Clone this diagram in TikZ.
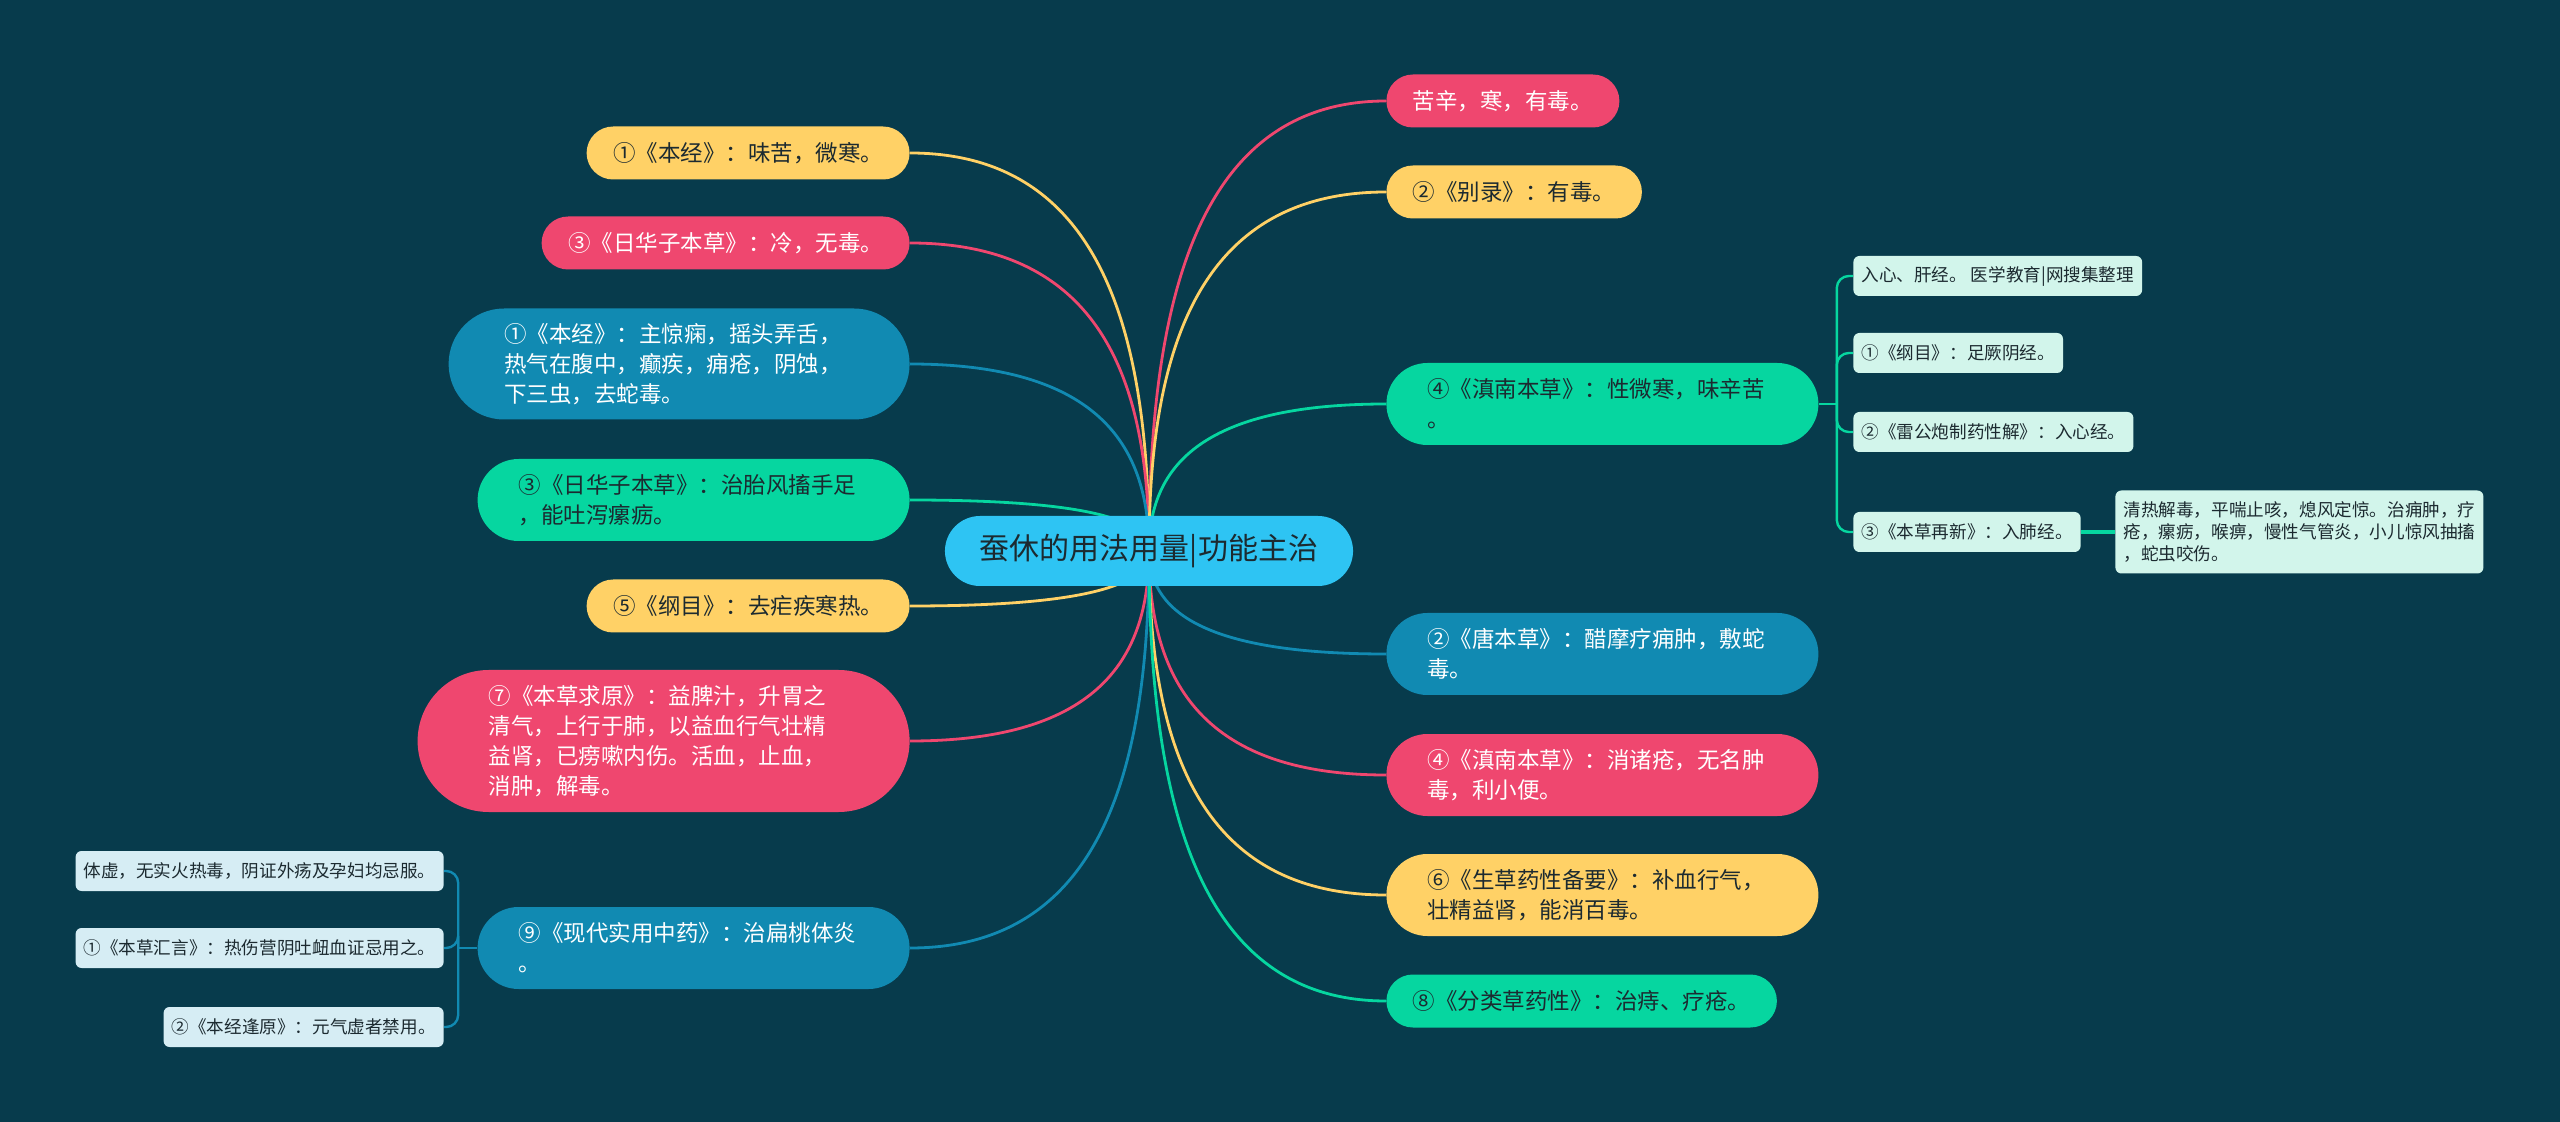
\documentclass[tikz,border=0pt]{standalone}
\usepackage{fontspec}
\setmainfont{Noto Sans CJK SC}
\usepackage{tikz}
\usetikzlibrary{positioning, backgrounds, calc}

\definecolor{bgcol}{HTML}{073B4C}
\definecolor{cYellow}{HTML}{FFD166}
\definecolor{cPink}{HTML}{EF476F}
\definecolor{cGreen}{HTML}{06D6A0}
\definecolor{cBlue}{HTML}{118AB2}
\definecolor{cRoot}{HTML}{2EC4F3}
\definecolor{ink}{HTML}{1C2A30}
\definecolor{leafBlue}{HTML}{D6EDF4}
\definecolor{leafMint}{HTML}{D2F5EB}

\newcommand\rootfont{\fontsize{15pt}{18pt}\selectfont}
\newcommand\topicfont{\fontsize{11.25pt}{15pt}\selectfont}
\newcommand\leaffont{\fontsize{8.8pt}{11pt}\selectfont}

\pgfdeclarelayer{backdrop}
\pgfsetlayers{backdrop,background,main}

\begin{document}
\begin{tikzpicture}[
  x=0.5pt, y=-0.5pt,
  font=\topicfont,
  rootnode/.style={fill=cRoot, text=ink, font=\rootfont, minimum height=35pt, rounded corners=17.5pt, inner xsep=17.5pt, inner ysep=0pt},
  pill1/.style={minimum height=26.5pt, rounded corners=13.25pt, inner xsep=13.25pt, inner ysep=0pt},
  pill2/.style={minimum height=41pt, rounded corners=20.5pt, inner xsep=20.5pt, inner ysep=0pt, text width=175pt, align=left},
  pill3/.style={minimum height=55.5pt, rounded corners=27.75pt, inner xsep=27.75pt, inner ysep=0pt, text width=175pt, align=left},
  pill4/.style={minimum height=71pt, rounded corners=35.5pt, inner xsep=35.5pt, inner ysep=0pt, text width=175pt, align=left},
  ylw/.style={fill=cYellow, text=ink},
  pnk/.style={fill=cPink, text=white},
  grn/.style={fill=cGreen, text=ink},
  blu/.style={fill=cBlue, text=white},
  leaf/.style={font=\leaffont, text=ink, minimum height=20pt, rounded corners=3pt, inner xsep=4pt, inner ysep=0pt},
  link/.style={line width=1.4pt},
  twig/.style={line width=1.2pt, rounded corners=6pt},
  branch/.style={to path={let \p1=(\tikztostart), \p2=(\tikztotarget) in
    .. controls (\x1,{\y1+0.55*(\y2-\y1)}) and ({\x2+0.8*(\x1-\x2)},\y2) .. (\tikztotarget)}}
]
  \useasboundingbox (0,0) rectangle (2560,1122);
  \begin{pgfonlayer}{backdrop}
    \fill[bgcol] (0,0) rectangle (2560,1122);
  \end{pgfonlayer}

  \node[rootnode] (root) at (1149,551) {蚕休的用法用量|功能主治};

  % left side
  \node[pill1, ylw, anchor=east] (l1) at (910,153) {①《本经》：味苦，微寒。};
  \node[pill1, pnk, anchor=east] (l2) at (910,243) {③《日华子本草》：冷，无毒。};
  \node[pill3, blu, anchor=east] (l3) at (910,364)
    {①《本经》：主惊痫，摇头弄舌，\\热气在腹中，癫疾，痈疮，阴蚀，\\下三虫，去蛇毒。};
  \node[pill2, grn, anchor=east] (l4) at (910,500) {③《日华子本草》：治胎风搐手足\\，能吐泻瘰疬。};
  \node[pill1, ylw, anchor=east] (l5) at (910,606) {⑤《纲目》：去疟疾寒热。};
  \node[pill4, pnk, anchor=east] (l6) at (910,741)
    {⑦《本草求原》：益脾汁，升胃之\\清气，上行于肺，以益血行气壮精\\益肾，已痨嗽内伤。活血，止血，\\消肿，解毒。};
  \node[pill2, blu, anchor=east] (l7) at (910,948) {⑨《现代实用中药》：治扁桃体炎\\。};

  \node[leaf, fill=leafBlue, anchor=east] (m1) at (444,871) {体虚，无实火热毒，阴证外疡及孕妇均忌服。};
  \node[leaf, fill=leafBlue, anchor=east] (m2) at (444,948) {①《本草汇言》：热伤营阴吐衄血证忌用之。};
  \node[leaf, fill=leafBlue, anchor=east] (m3) at (444,1027) {②《本经逢原》：元气虚者禁用。};
  \coordinate[left=9.5pt of l7.west] (lfork);

  % right side
  \node[pill1, pnk, anchor=west] (r1) at (1386,101) {苦辛，寒，有毒。};
  \node[pill1, ylw, anchor=west] (r2) at (1386,192) {②《别录》：有毒。};
  \node[pill2, grn, anchor=west] (r3) at (1386,404) {④《滇南本草》：性微寒，味辛苦\\。};
  \node[pill2, blu, anchor=west] (r4) at (1386,654) {②《唐本草》：醋摩疗痈肿，敷蛇\\毒。};
  \node[pill2, pnk, anchor=west] (r5) at (1386,775) {④《滇南本草》：消诸疮，无名肿\\毒，利小便。};
  \node[pill2, ylw, anchor=west] (r6) at (1386,895) {⑥《生草药性备要》：补血行气，\\壮精益肾，能消百毒。};
  \node[pill1, grn, anchor=west] (r7) at (1386,1001) {⑧《分类草药性》：治痔、疗疮。};

  \node[leaf, fill=leafMint, anchor=west] (k1) at (1853,276) {入心、肝经。 医学教育|网搜集整理};
  \node[leaf, fill=leafMint, anchor=west] (k2) at (1853,353) {①《纲目》：足厥阴经。};
  \node[leaf, fill=leafMint, anchor=west] (k3) at (1853,432) {②《雷公炮制药性解》：入心经。};
  \node[leaf, fill=leafMint, anchor=west] (k4) at (1853,532) {③《本草再新》：入肺经。};
  \node[leaf, fill=leafMint, right=17pt of k4, minimum height=41.5pt, text width=176pt, align=left] (k4a)
    {清热解毒，平喘止咳，熄风定惊。治痈肿，疗\\疮，瘰疬，喉痹，慢性气管炎，小儿惊风抽搐\\，蛇虫咬伤。};
  \coordinate[right=9pt of r3.east] (rfork);

  \begin{scope}[on background layer]
    \draw[link, cYellow] (root.center) to[branch] (l1.east);
    \draw[link, cPink] (root.center) to[branch] (l2.east);
    \draw[link, cBlue] (root.center) to[branch] (l3.east);
    \draw[link, cGreen] (root.center) to[branch] (l4.east);
    \draw[link, cYellow] (root.center) to[branch] (l5.east);
    \draw[link, cPink] (root.center) to[branch] (l6.east);
    \draw[link, cBlue] (root.center) to[branch] (l7.east);
    \draw[link, cPink] (root.center) to[branch] (r1.west);
    \draw[link, cYellow] (root.center) to[branch] (r2.west);
    \draw[link, cGreen] (root.center) to[branch] (r3.west);
    \draw[link, cBlue] (root.center) to[branch] (r4.west);
    \draw[link, cPink] (root.center) to[branch] (r5.west);
    \draw[link, cYellow] (root.center) to[branch] (r6.west);
    \draw[link, cGreen] (root.center) to[branch] (r7.west);
  \end{scope}

  \draw[twig, cBlue] (l7.west) -- (lfork);
  \draw[twig, cBlue] (lfork) |- (m1.east);
  \draw[twig, cBlue] (lfork) |- (m2.east);
  \draw[twig, cBlue] (lfork) |- (m3.east);

  \draw[twig, cGreen] (r3.east) -- (rfork);
  \draw[twig, cGreen] (rfork) |- (k1.west);
  \draw[twig, cGreen] (rfork) |- (k2.west);
  \draw[twig, cGreen] (rfork) |- (k3.west);
  \draw[twig, cGreen] (rfork) |- (k4.west);
  \draw[line width=2pt, cGreen] (k4) -- (k4a);
\end{tikzpicture}
\end{document}
